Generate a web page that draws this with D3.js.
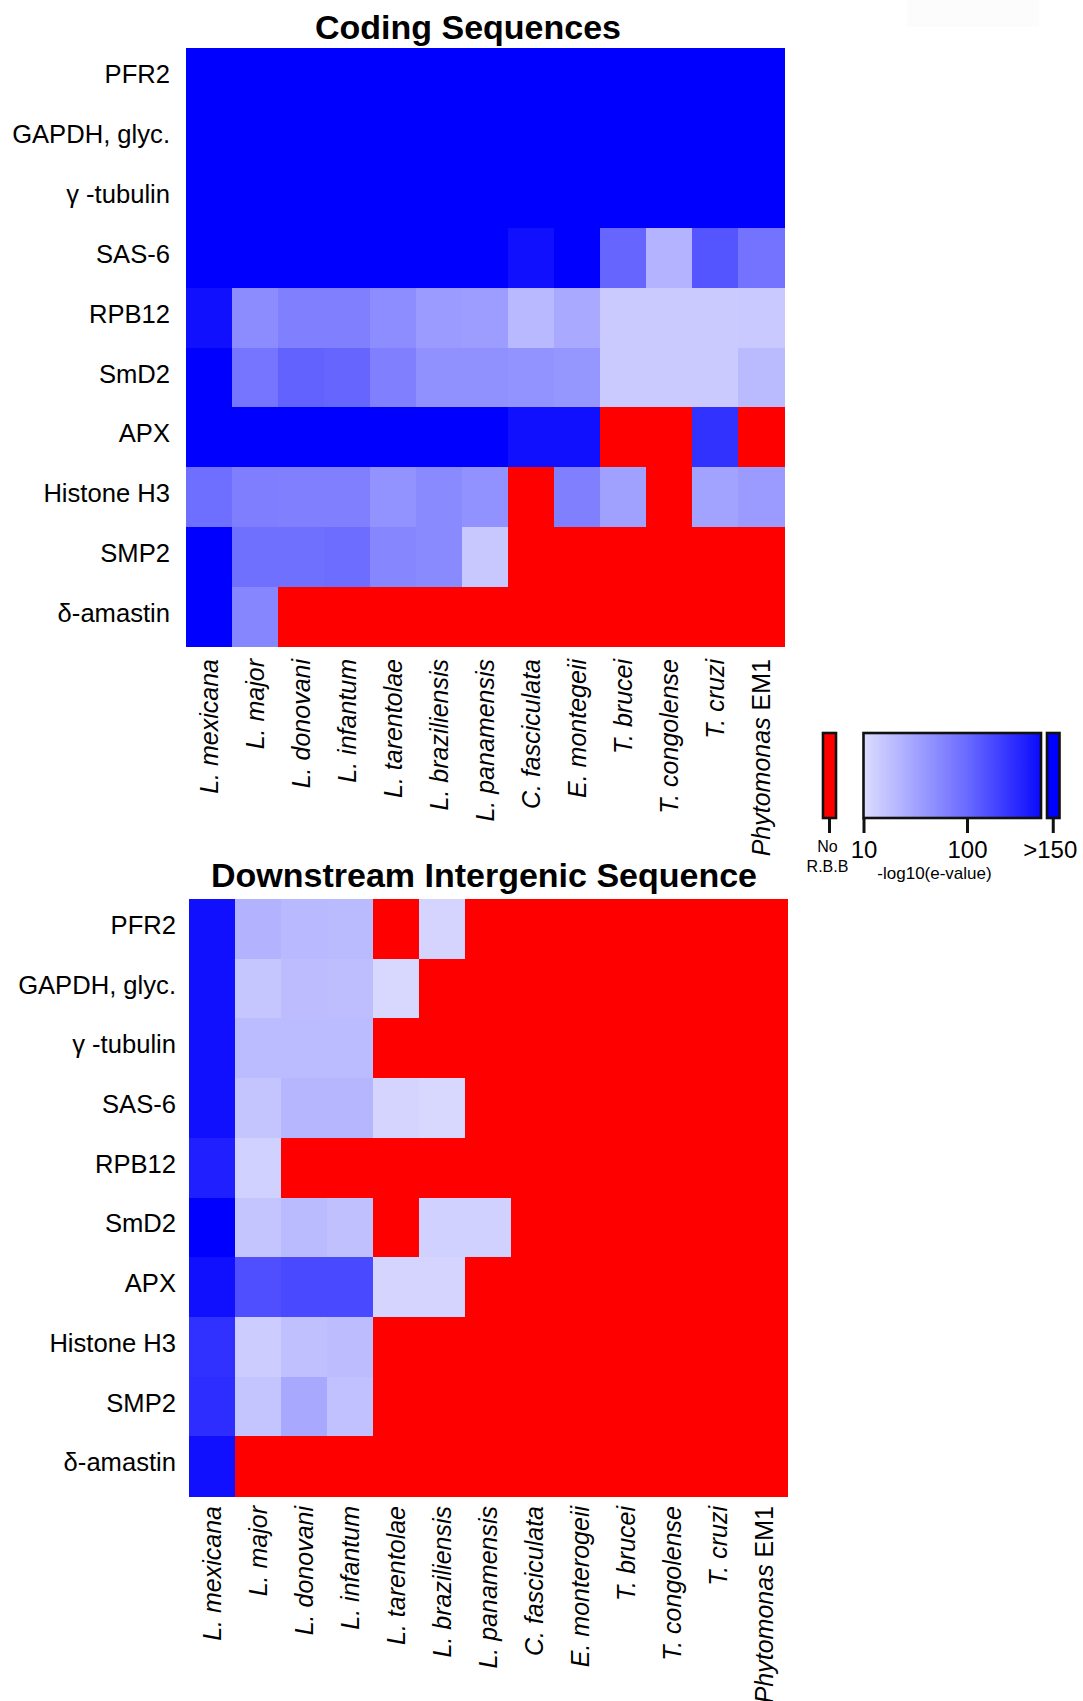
<!DOCTYPE html>
<html>
<head>
<meta charset="utf-8">
<script src="https://cdn.jsdelivr.net/npm/d3@7"></script>
<style>
  html, body { margin: 0; padding: 0; background: #ffffff; }
  svg text { font-family: "Liberation Sans", Arial, Helvetica, sans-serif; fill: #000; }
</style>
</head>
<body>
<svg id="chart" width="1083" height="1701"></svg>
<script>
// Genes (rows), shared by both panels
const genes = ["PFR2", "GAPDH, glyc.", "γ -tubulin", "SAS-6", "RPB12", "SmD2", "APX", "Histone H3", "SMP2", "δ-amastin"];

// Species (columns) as labelled on each panel
const codingSpecies = ["L. mexicana", "L. major", "L. donovani", "L. infantum", "L. tarentolae", "L. braziliensis",
  "L. panamensis", "C. fasciculata", "E. montegeii", "T. brucei", "T. congolense", "T. cruzi", "Phytomonas EM1"];
const intergenicSpecies = ["L. mexicana", "L. major", "L. donovani", "L. infantum", "L. tarentolae", "L. braziliensis",
  "L. panamensis", "C. fasciculata", "E. monterogeii", "T. brucei", "T. congolense", "T. cruzi", "Phytomonas EM1"];

// -log10(e-value) of the reciprocal best BLAST hit; SAT = beyond 150, NA = no reciprocal best hit
const SAT = Infinity;
const NA = null;

const codingValues = [
  [SAT, SAT, SAT, SAT, SAT, SAT, SAT, SAT, SAT, SAT, SAT, SAT, SAT],
  [SAT, SAT, SAT, SAT, SAT, SAT, SAT, SAT, SAT, SAT, SAT, SAT, SAT],
  [SAT, SAT, SAT, SAT, SAT, SAT, SAT, SAT, SAT, SAT, SAT, SAT, SAT],
  [SAT, SAT, SAT, SAT, SAT, SAT, SAT, 147, SAT, 102, 42, 111, 93],
  [147, 73, 83, 83, 72, 61, 60, 38, 50, 24, 24, 24, 25],
  [SAT, 91, 104, 102, 83, 70, 70, 68, 65, 24, 24, 24, 37],
  [SAT, SAT, SAT, SAT, SAT, SAT, SAT, 147, 147, NA, NA, 129, NA],
  [97, 84, 83, 83, 68, 75, 69, NA, 83, 57, NA, 56, 61],
  [SAT, 95, 95, 98, 78, 75, 26, NA, NA, NA, NA, NA, NA],
  [SAT, 78, NA, NA, NA, NA, NA, NA, NA, NA, NA, NA, NA]
];

const intergenicValues = [
  [147, 43, 38, 37, NA, 16, NA, NA, NA, NA, NA, NA, NA],
  [147, 27, 35, 34, 13, NA, NA, NA, NA, NA, NA, NA, NA],
  [147, 36, 36, 36, NA, NA, NA, NA, NA, NA, NA, NA, NA],
  [147, 29, 40, 40, 16, 13, NA, NA, NA, NA, NA, NA, NA],
  [139, 19, NA, NA, NA, NA, NA, NA, NA, NA, NA, NA, NA],
  [SAT, 29, 37, 32, NA, 19, 19, NA, NA, NA, NA, NA, NA],
  [147, 114, 117, 117, 16, 16, NA, NA, NA, NA, NA, NA, NA],
  [130, 23, 32, 35, NA, NA, NA, NA, NA, NA, NA, NA, NA],
  [132, 29, 51, 31, NA, NA, NA, NA, NA, NA, NA, NA, NA],
  [147, NA, NA, NA, NA, NA, NA, NA, NA, NA, NA, NA, NA]
];

// Colour key
const colorStops = [10, 100, 150];
const colorRange = ["#dcdcff", "#6a6aff", "#0a0aff"];
const legendTicks = [10, 100];
const noHitLabel = ["No", "R.B.B"];
const satLabel = ">150";
const legendTitle = "-log10(e-value)";

const NO_HIT_COLOR = "#ff0000";
const SAT_COLOR = "#0000ff";

const color = d3.scaleLinear().domain(colorStops).range(colorRange).clamp(true);
function fillFor(v) {
  if (v === null) return NO_HIT_COLOR;
  if (v > colorStops[colorStops.length - 1]) return SAT_COLOR;
  return color(v);
}

const svg = d3.select("#chart");

// faint panel behind the top-right corner
svg.append("rect").attr("x", 907).attr("y", 0).attr("width", 132).attr("height", 27).attr("fill", "#fcfcfc");

function drawHeatmap(opt) {
  const g = svg.append("g");
  const x = d3.scaleBand().domain(d3.range(opt.species.length)).range([opt.x0, opt.x1]);
  const y = d3.scaleBand().domain(genes).range([opt.y0, opt.y1]);

  const cells = [];
  opt.values.forEach((row, i) => row.forEach((v, j) => cells.push({ gene: genes[i], col: j, v })));

  g.append("g").selectAll("rect").data(cells).join("rect")
    .attr("x", d => x(d.col))
    .attr("y", d => y(d.gene))
    .attr("width", x.bandwidth() + 0.6)
    .attr("height", y.bandwidth() + 0.6)
    .attr("fill", d => fillFor(d.v))
    .attr("shape-rendering", "crispEdges");

  // title
  g.append("text")
    .attr("x", opt.titleX).attr("y", opt.titleY)
    .attr("text-anchor", "middle")
    .style("font-size", "34px").style("font-weight", "bold")
    .text(opt.title);

  // gene labels
  g.append("g").selectAll("text").data(genes).join("text")
    .attr("x", opt.labelRight)
    .attr("y", d => y(d) + y.bandwidth() / 2)
    .attr("dy", "0.2em")
    .attr("text-anchor", "end")
    .style("font-size", "25.6px")
    .text(d => d);

  // species labels, rotated
  const lab = g.append("g").selectAll("text").data(opt.species).join("text")
    .attr("transform", (d, j) => `translate(${x(j) + x.bandwidth() / 2},${opt.colLabelY}) rotate(-90)`)
    .attr("dy", "0.36em")
    .attr("text-anchor", "end")
    .style("font-size", "25px");
  lab.each(function (d) {
    const t = d3.select(this);
    const m = d.match(/^(.*?)(\s+[A-Z]+\d+)$/);
    if (m) {
      t.append("tspan").style("font-style", "italic").text(m[1]);
      t.append("tspan").text(m[2]);
    } else {
      t.append("tspan").style("font-style", "italic").text(d);
    }
  });
}

drawHeatmap({
  title: "Coding Sequences", titleX: 468, titleY: 38.5,
  species: codingSpecies, values: codingValues,
  x0: 186, x1: 784.3, y0: 48.3, y1: 646.7,
  labelRight: 170, colLabelY: 659
});

drawHeatmap({
  title: "Downstream Intergenic Sequence", titleX: 484, titleY: 887,
  species: intergenicSpecies, values: intergenicValues,
  x0: 188.7, x1: 787, y0: 899, y1: 1496,
  labelRight: 176, colLabelY: 1506
});

// ---- colour key ----
const key = svg.append("g");
const keyTop = 733, keyBottom = 818;
const legendX = d3.scaleLinear().domain(colorStops).range([863.5, 967, 1041]);
const redBar = { x: 823, w: 13 };
const blueBar = { x: 1047, w: 12.5 };

const defs = svg.append("defs");
const grad = defs.append("linearGradient").attr("id", "keyGrad")
  .attr("x1", "0%").attr("x2", "100%").attr("y1", "0%").attr("y2", "0%");
const g0 = legendX.range()[0], g1 = legendX.range()[legendX.range().length - 1];
colorStops.forEach(v => {
  grad.append("stop")
    .attr("offset", ((legendX(v) - g0) / (g1 - g0) * 100) + "%")
    .attr("stop-color", color(v));
});

key.append("rect")
  .attr("x", redBar.x).attr("y", keyTop).attr("width", redBar.w).attr("height", keyBottom - keyTop)
  .attr("fill", NO_HIT_COLOR).attr("stroke", "#111").attr("stroke-width", 2.6);
key.append("rect")
  .attr("x", g0).attr("y", keyTop).attr("width", g1 - g0).attr("height", keyBottom - keyTop)
  .attr("fill", "url(#keyGrad)").attr("stroke", "#111").attr("stroke-width", 2.6);
key.append("rect")
  .attr("x", blueBar.x).attr("y", keyTop).attr("width", blueBar.w).attr("height", keyBottom - keyTop)
  .attr("fill", SAT_COLOR).attr("stroke", "#111").attr("stroke-width", 2.6);

const axis = d3.axisBottom(legendX).tickValues(legendTicks).tickSize(15).tickPadding(8).tickFormat(d3.format("d"));
const axG = key.append("g").attr("transform", `translate(0,${keyBottom})`).call(axis);
axG.select(".domain").remove();
axG.selectAll(".tick line").attr("stroke", "#111").attr("stroke-width", 3);
axG.selectAll(".tick text").attr("fill", "#000").style("font-size", "24px")
  .style("font-family", "'Liberation Sans', Arial, Helvetica, sans-serif");

// ticks for the two end bars
const redCx = redBar.x + redBar.w / 2, blueCx = blueBar.x + blueBar.w / 2;
[redCx, blueCx].forEach(cx => {
  key.append("line").attr("x1", cx).attr("x2", cx).attr("y1", keyBottom).attr("y2", keyBottom + 15)
    .attr("stroke", "#111").attr("stroke-width", 3);
});
key.append("text").attr("x", blueCx - 3).attr("y", 858).attr("text-anchor", "middle")
  .style("font-size", "24px").text(satLabel);
key.append("text").attr("x", redCx - 2).attr("y", 851.5).attr("text-anchor", "middle")
  .style("font-size", "16px").text(noHitLabel[0]);
key.append("text").attr("x", redCx - 2).attr("y", 871.5).attr("text-anchor", "middle")
  .style("font-size", "16px").text(noHitLabel[1]);
key.append("text").attr("x", 934.5).attr("y", 878.5).attr("text-anchor", "middle")
  .style("font-size", "17px").text(legendTitle);
</script>
</body>
</html>
